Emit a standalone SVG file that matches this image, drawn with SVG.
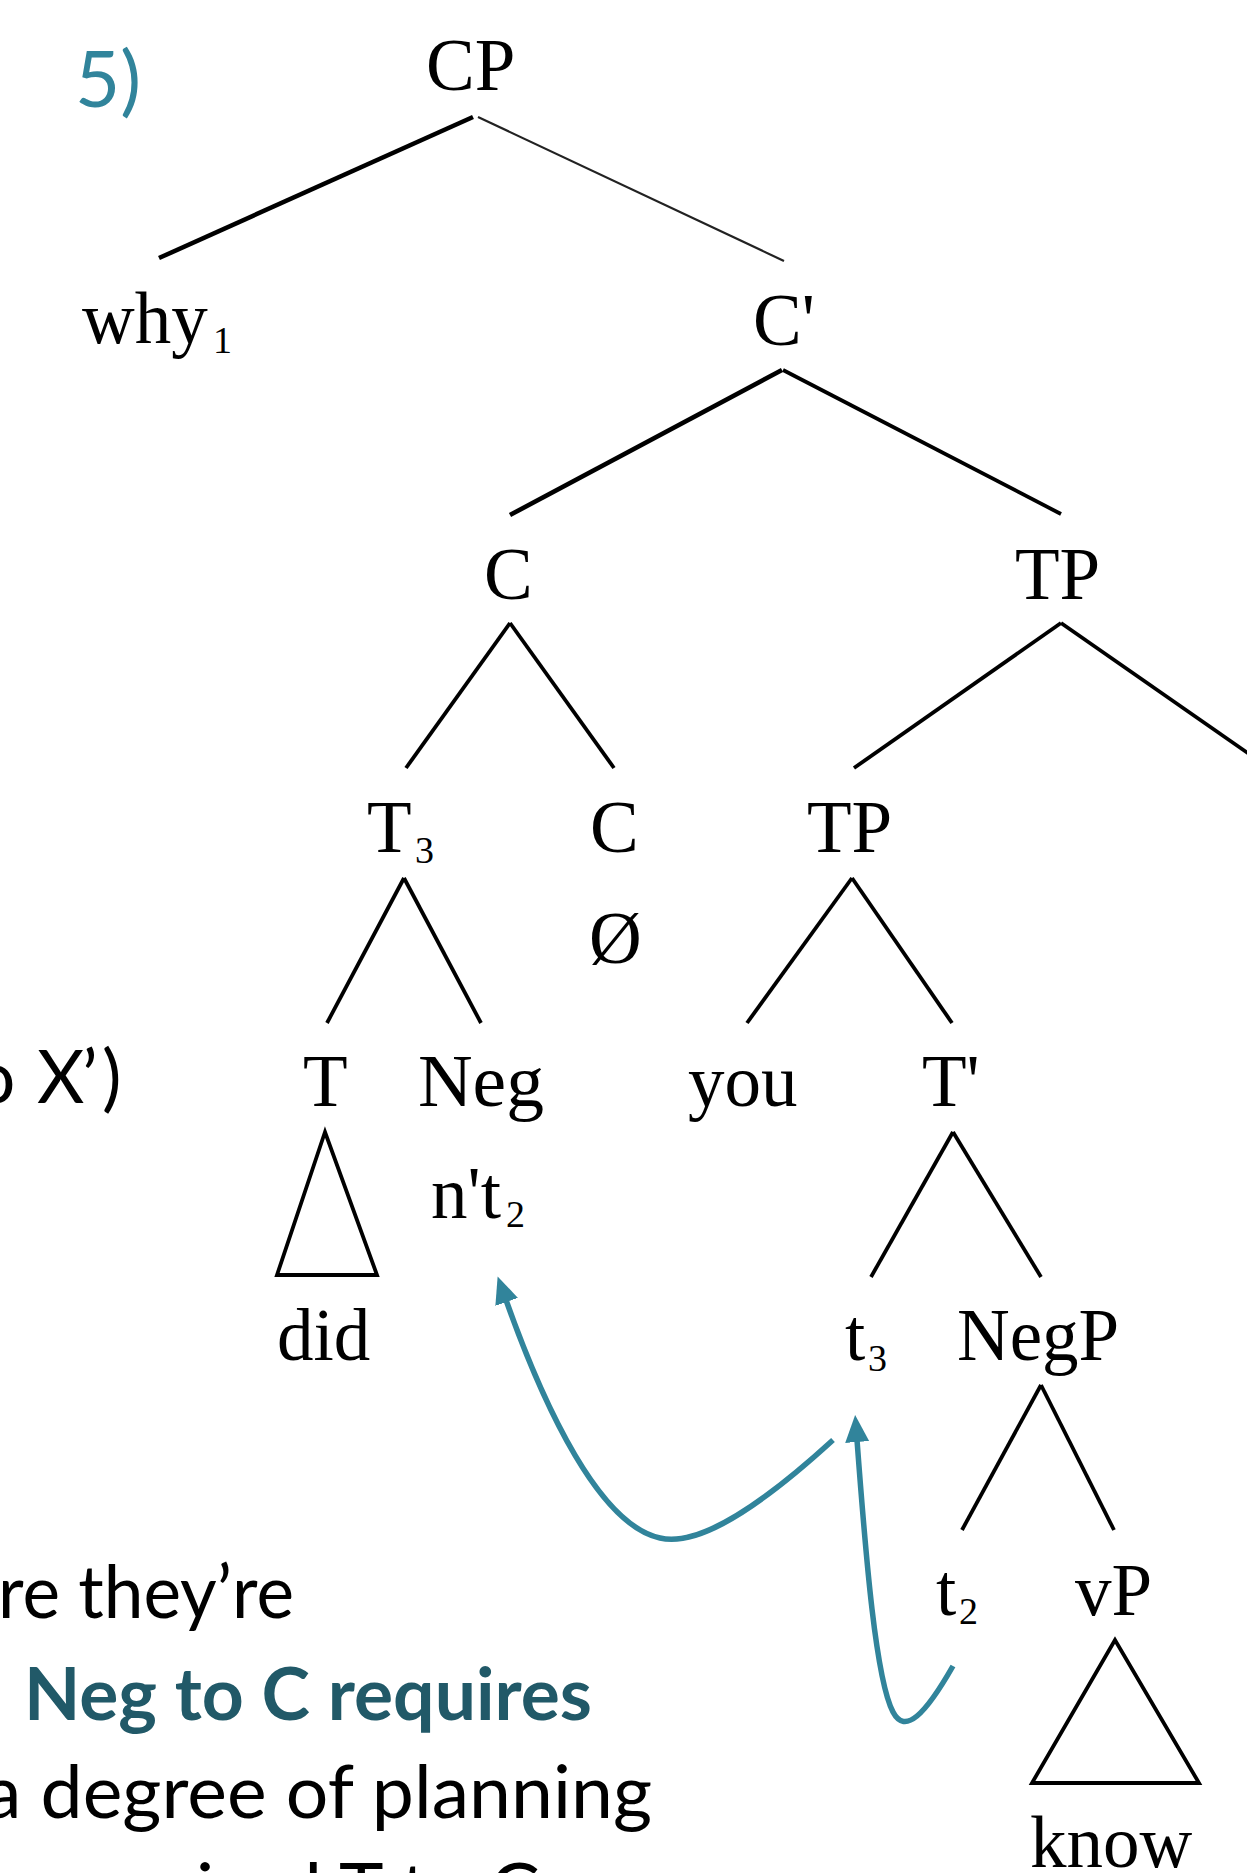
<svg xmlns="http://www.w3.org/2000/svg" width="1247" height="1873" viewBox="0 0 1247 1873">
<defs>
<style>
.lbl{font-family:"Liberation Serif","Times New Roman",serif;font-size:73px;fill:#000}
.sub{font-family:"Liberation Serif","Times New Roman",serif;font-size:38px;fill:#000}
.ln{stroke:#000;stroke-width:3.8;fill:none}
.thick{stroke:#000;stroke-width:4.6;fill:none}
.thin{stroke:#222;stroke-width:2.2;fill:none}
.roof{stroke:#000;stroke-width:3.8;fill:none;stroke-linejoin:miter}
.mv{stroke:#31849B;stroke-width:5.5;fill:none;stroke-linecap:butt}
.slide{font-family:Lato,"Open Sans",sans-serif;font-size:73px;fill:#000}
.hl{font-family:Lato,"Open Sans",sans-serif;font-size:73px;font-weight:bold;fill:#215968}
.num{font-family:Lato,"Open Sans",sans-serif;font-size:78px;fill:#31849B}
</style>
<marker id="ah" markerUnits="userSpaceOnUse" markerWidth="30" markerHeight="26" refX="2" refY="12" orient="auto">
<path d="M0,0 L27,12 L0,24 z" fill="#31849B"/>
</marker>
</defs>
<rect width="1247" height="1873" fill="#fff"/>

<g id="slide-text">
<text class="num" x="75" y="107">5)</text>
<text class="slide" y="1103"><tspan x="-26">o</tspan><tspan x="37">X</tspan><tspan x="82">’</tspan><tspan x="102">)</tspan></text>
<text class="slide" x="-2" y="1618" textLength="296" lengthAdjust="spacingAndGlyphs">re they’re</text>
<text class="hl" x="24" y="1720" textLength="568" lengthAdjust="spacingAndGlyphs">Neg to C requires</text>
<text class="slide" x="-16" y="1818" textLength="668" lengthAdjust="spacingAndGlyphs">a degree of planning</text>
<text class="slide" x="46" y="1916" textLength="494" lengthAdjust="spacingAndGlyphs">required T to C</text>
</g>

<g id="connectors">
<line class="thick" x1="473" y1="117" x2="159" y2="258"/>
<line class="thin" x1="478" y1="117" x2="784" y2="261"/>
<line class="thick" x1="782" y1="370" x2="510" y2="515"/>
<line class="ln" x1="783" y1="370" x2="1061" y2="514"/>
<line class="ln" x1="510" y1="623" x2="406" y2="768"/>
<line class="ln" x1="510" y1="623" x2="614" y2="768"/>
<line class="ln" x1="1061" y1="623" x2="854" y2="768"/>
<line class="ln" x1="1061" y1="623" x2="1262" y2="763"/>
<line class="ln" x1="404" y1="878" x2="327" y2="1023"/>
<line class="ln" x1="404" y1="878" x2="481" y2="1023"/>
<line class="ln" x1="852" y1="878" x2="747" y2="1023"/>
<line class="ln" x1="852" y1="878" x2="952" y2="1023"/>
<line class="ln" x1="953" y1="1132" x2="871" y2="1277"/>
<line class="ln" x1="953" y1="1132" x2="1041" y2="1277"/>
<line class="ln" x1="1041" y1="1385" x2="962" y2="1530"/>
<line class="ln" x1="1041" y1="1385" x2="1114" y2="1530"/>
<path class="mv" d="M833,1440 C740,1525 690,1545 660,1538 C600,1525 545,1410 506,1300" marker-end="url(#ah)"/>
<path class="mv" d="M953,1666 C925,1715 905,1735 893,1712 C876,1680 866,1560 857,1440" marker-end="url(#ah)"/>
</g>

<g id="n-CP"><text class="lbl" x="426" y="90">CP</text></g>
<g id="n-why"><text class="lbl" x="82" y="343">why</text><text class="sub" x="213" y="353">1</text></g>
<g id="n-Cbar"><text class="lbl" x="753" y="345">C'</text></g>
<g id="n-C"><text class="lbl" x="484" y="599">C</text></g>
<g id="n-TP"><text class="lbl" x="1015" y="599">TP</text></g>
<g id="n-T3"><text class="lbl" x="367" y="852">T</text><text class="sub" x="415" y="863">3</text></g>
<g id="n-C2"><text class="lbl" x="590" y="852">C</text><text class="lbl" x="589" y="963">Ø</text></g>
<g id="n-TP2"><text class="lbl" x="807" y="852">TP</text></g>
<g id="n-T"><text class="lbl" x="303" y="1106">T</text><path class="roof" d="M325,1132 L277,1275 L377,1275 Z"/><text class="lbl" x="277" y="1360">did</text></g>
<g id="n-Neg"><text class="lbl" x="418" y="1106" textLength="126" lengthAdjust="spacingAndGlyphs">Neg</text><text class="lbl" x="431" y="1218">n't</text><text class="sub" x="506" y="1227">2</text></g>
<g id="n-you"><text class="lbl" x="688" y="1106">you</text></g>
<g id="n-Tbar"><text class="lbl" x="922" y="1106">T'</text></g>
<g id="n-t3"><text class="lbl" x="845" y="1360">t</text><text class="sub" x="868" y="1371">3</text></g>
<g id="n-NegP"><text class="lbl" x="957" y="1360">NegP</text></g>
<g id="n-t2"><text class="lbl" x="936" y="1615">t</text><text class="sub" x="959" y="1624">2</text></g>
<g id="n-vP"><text class="lbl" x="1075" y="1615">vP</text><path class="roof" d="M1115,1640 L1032,1783 L1199,1783 Z"/><text class="lbl" x="1030" y="1867">know</text></g>
</svg>
